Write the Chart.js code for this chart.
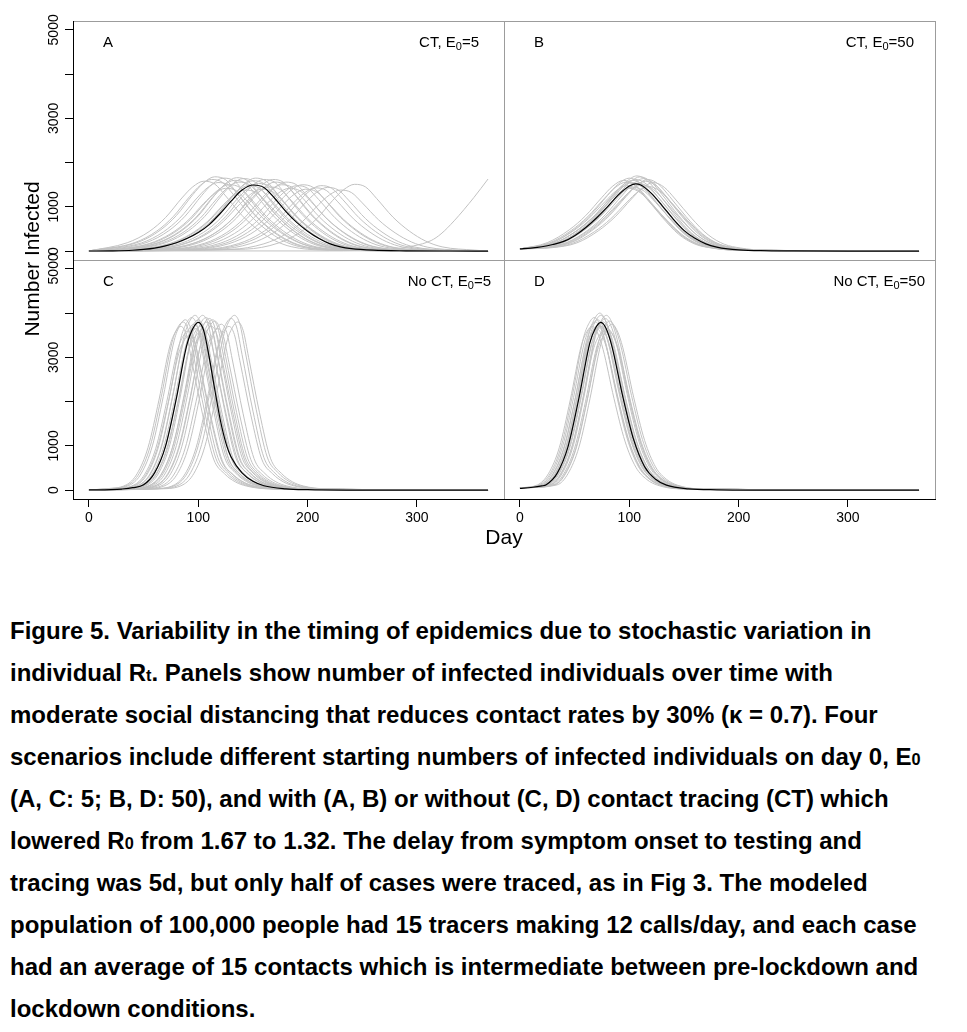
<!DOCTYPE html>
<html>
<head>
<meta charset="utf-8">
<title>Figure 5</title>
<script src="https://cdn.jsdelivr.net/npm/chart.js@4.4.1/dist/chart.umd.min.js"></script>
<style>
  html, body { margin: 0; padding: 0; background: #fff; }
  body { width: 967px; height: 1032px; position: relative; overflow: hidden; }
  #chart { position: absolute; left: 0; top: 0; }
  #caption {
    position: absolute; left: 10px; top: 610px;
    font-family: "Liberation Sans", Arial, sans-serif; font-weight: bold;
    font-size: 24px; line-height: 42px; color: #000; white-space: nowrap;
  }
  #caption .s { font-size: 68%; line-height: 0; }
  #caption .k { line-height: 0; }
</style>
</head>
<body>
<canvas id="chart" width="967" height="560"></canvas>
<div id="caption">Figure 5. Variability in the timing of epidemics due to stochastic variation in<br>individual R<span class="s">t</span>. Panels show number of infected individuals over time with<br>moderate social distancing that reduces contact rates by 30% (<span class="k">κ</span> = 0.7). Four<br>scenarios include different starting numbers of infected individuals on day 0, E<span class="s">0</span><br>(A, C: 5; B, D: 50), and with (A, B) or without (C, D) contact tracing (CT) which<br>lowered R<span class="s">0</span> from 1.67 to 1.32. The delay from symptom onset to testing and<br>tracing was 5d, but only half of cases were traced, as in Fig 3. The modeled<br>population of 100,000 people had 15 tracers making 12 calls/day, and each case<br>had an average of 15 contacts which is intermediate between pre-lockdown and<br>lockdown conditions.</div>
<script>
// axes (R style: 4% extra on each end of 0..365 days and 0..5000)
const xMin = -14.6, xMax = 379.6;
const yMin = -200, yMax = 5200;
const xTickValues = [0, 100, 200, 300];
const xTickLabels = ['0', '100', '200', '300'];
const yTickValues = [0, 1000, 2000, 3000, 4000, 5000];
const yTickLabels = ['0', '1000', '', '3000', '', '5000'];
const xTitle = 'Day';
const yTitle = 'Number Infected';

const panelLetters = ['A', 'B', 'C', 'D'];
const panelTitles = [
  ['CT, E', '0', '=5'],
  ['CT, E', '0', '=50'],
  ['No CT, E', '0', '=5'],
  ['No CT, E', '0', '=50']
];

// [day, number infected] -- black = central run, grey = stochastic runs

// A: CT, E0=5
const meanA = [[0,3],[20,6],[40,20],[50,40],[60,70],[70,120],[80,190],[90,290],[100,420],[110,600],[120,850],[130,1130],[140,1380],[150,1495],[160,1440],[170,1190],[180,900],[190,650],[200,450],[210,290],[220,170],[230,95],[240,55],[260,22],[290,8],[330,3],[365,2]];
const runsA = [
  [[0,5],[35,190],[55,442],[70,758],[85,1201],[95,1454],[105,1580],[115,1517],[125,1248],[140,806],[155,474],[170,237],[185,101],[215,24],[365,0]],
  [[0,5],[42,194],[62,454],[77,778],[92,1231],[102,1490],[112,1620],[122,1555],[132,1280],[147,826],[162,486],[177,243],[192,104],[222,24],[365,0]],
  [[0,5],[45,202],[65,470],[80,806],[95,1277],[105,1546],[115,1680],[125,1613],[135,1327],[150,857],[165,504],[180,252],[195,108],[225,25],[365,0]],
  [[0,5],[48,186],[68,434],[83,744],[98,1178],[108,1426],[118,1550],[128,1488],[138,1225],[153,791],[168,465],[183,233],[198,99],[228,23],[365,0]],
  [[0,5],[23,50],[53,198],[73,462],[88,792],[103,1254],[113,1518],[123,1650],[133,1584],[143,1304],[158,842],[173,495],[188,248],[203,106],[233,25],[365,0]],
  [[0,5],[25,43],[55,170],[75,398],[90,682],[105,1079],[115,1306],[125,1420],[135,1363],[145,1122],[160,724],[175,426],[190,213],[205,91],[235,21],[365,0]],
  [[0,5],[28,45],[58,180],[78,420],[93,720],[108,1140],[118,1380],[128,1500],[138,1440],[148,1185],[163,765],[178,450],[193,225],[208,96],[238,23],[365,0]],
  [[0,5],[33,48],[63,192],[83,448],[98,768],[113,1216],[123,1472],[133,1600],[143,1536],[153,1264],[168,816],[183,480],[198,240],[213,102],[243,24],[365,0]],
  [[0,5],[35,50],[65,199],[85,465],[100,797],[115,1262],[125,1527],[135,1660],[145,1594],[155,1311],[170,847],[185,498],[200,249],[215,106],[245,25],[365,0]],
  [[0,5],[37,47],[67,187],[87,437],[102,749],[117,1186],[127,1435],[137,1560],[147,1498],[157,1232],[172,796],[187,468],[202,234],[217,100],[247,23],[365,0]],
  [[0,5],[41,49],[71,197],[91,459],[106,787],[121,1246],[131,1509],[141,1640],[151,1574],[161,1296],[176,836],[191,492],[206,246],[221,105],[251,25],[365,0]],
  [[0,5],[43,41],[73,166],[93,386],[108,662],[123,1049],[133,1270],[143,1380],[153,1325],[163,1090],[178,704],[193,414],[208,207],[223,88],[253,21],[365,0]],
  [[0,5],[46,44],[76,178],[96,414],[111,710],[126,1125],[136,1362],[146,1480],[156,1421],[166,1169],[181,755],[196,444],[211,222],[226,95],[256,22],[365,0]],
  [[0,5],[50,48],[80,191],[100,445],[115,763],[130,1208],[140,1463],[150,1590],[160,1526],[170,1256],[185,811],[200,477],[215,239],[230,102],[260,24],[365,0]],
  [[0,5],[52,50],[82,198],[102,462],[117,792],[132,1254],[142,1518],[152,1650],[162,1584],[172,1304],[187,842],[202,495],[217,248],[232,106],[262,25],[365,0]],
  [[0,5],[55,46],[85,184],[105,428],[120,734],[135,1163],[145,1408],[155,1530],[165,1469],[175,1209],[190,780],[205,459],[220,230],[235,98],[265,23],[365,0]],
  [[0,5],[58,42],[88,168],[108,392],[123,672],[138,1064],[148,1288],[158,1400],[168,1344],[178,1106],[193,714],[208,420],[223,210],[238,90],[268,21],[365,0]],
  [[0,5],[60,49],[90,194],[110,454],[125,778],[140,1231],[150,1490],[160,1620],[170,1555],[180,1280],[195,826],[210,486],[225,243],[240,104],[270,24],[365,0]],
  [[0,5],[65,44],[95,174],[115,406],[130,696],[145,1102],[155,1334],[165,1450],[175,1392],[185,1146],[200,740],[215,435],[230,218],[245,93],[275,22],[365,0]],
  [[0,5],[68,49],[98,194],[118,454],[133,778],[148,1231],[158,1490],[168,1620],[178,1555],[188,1280],[203,826],[218,486],[233,243],[248,104],[278,24],[365,0]],
  [[0,5],[70,47],[100,187],[120,437],[135,749],[150,1186],[160,1435],[170,1560],[180,1498],[190,1232],[205,796],[220,468],[235,234],[250,100],[280,23],[365,0]],
  [[0,5],[76,45],[106,180],[126,420],[141,720],[156,1140],[166,1380],[176,1500],[186,1440],[196,1185],[211,765],[226,450],[241,225],[256,96],[286,23],[365,0]],
  [[0,5],[80,47],[110,187],[130,437],[145,749],[160,1186],[170,1435],[180,1560],[190,1498],[200,1232],[215,796],[230,468],[245,234],[260,100],[290,23],[365,0]],
  [[0,5],[83,43],[113,170],[133,398],[148,682],[163,1079],[173,1306],[183,1420],[193,1363],[203,1122],[218,724],[233,426],[248,213],[263,91],[293,21],[365,0]],
  [[0,5],[90,44],[120,178],[140,414],[155,710],[170,1125],[180,1362],[190,1480],[200,1421],[210,1169],[225,755],[240,444],[255,222],[270,95],[300,22],[365,0]],
  [[0,5],[95,45],[125,180],[145,420],[160,720],[175,1140],[185,1380],[195,1500],[205,1440],[215,1185],[230,765],[245,450],[260,225],[275,96],[305,23],[365,0]],
  [[0,5],[98,42],[128,168],[148,392],[163,672],[178,1064],[188,1288],[198,1400],[208,1344],[218,1106],[233,714],[248,420],[263,210],[278,90],[308,21],[365,0]],
  [[0,5],[107,43],[137,172],[157,400],[172,686],[187,1087],[197,1316],[207,1430],[217,1373],[227,1130],[242,729],[257,429],[272,215],[287,92],[317,21],[365,0]],
  [[0,5],[112,44],[142,178],[162,414],[177,710],[192,1125],[202,1362],[212,1480],[222,1421],[232,1169],[247,755],[262,444],[277,222],[292,95],[322,22],[365,0]],
  [[0,5],[118,43],[148,173],[168,403],[183,691],[198,1094],[208,1325],[218,1440],[228,1382],[238,1138],[253,734],[268,432],[283,216],[298,92],[328,22],[365,0]],
  [[0,5],[130,41],[160,166],[180,386],[195,662],[210,1049],[220,1270],[230,1380],[240,1325],[250,1090],[265,704],[280,414],[295,207],[310,88],[340,21],[365,0]],
  [[0,5],[143,45],[173,181],[193,423],[208,725],[223,1148],[233,1389],[243,1510],[253,1450],[263,1193],[278,770],[293,453],[308,227],[323,97],[353,23],[365,0]],
  [[0,5],[220,5],[270,30],[297,120],[313,240],[322,390],[334,685],[352,1210],[365,1630]]
];

// B: CT, E0=50
const meanB = [[0,50],[10,70],[20,100],[30,150],[40,220],[50,350],[60,530],[70,750],[80,1000],[90,1270],[100,1470],[106,1520],[110,1500],[120,1310],[130,1030],[140,730],[150,470],[160,290],[170,165],[180,90],[190,50],[200,30],[220,12],[250,5],[300,2],[365,1]];
const runsB = [
  [[0,50],[25,192],[45,480],[60,800],[75,1216],[85,1472],[95,1600],[105,1488],[115,1216],[130,768],[145,384],[160,160],[175,72],[195,24],[365,0]],
  [[0,50],[27,187],[47,468],[62,780],[77,1186],[87,1435],[97,1560],[107,1451],[117,1186],[132,749],[147,374],[162,156],[177,70],[197,23],[365,0]],
  [[0,50],[28,178],[48,444],[63,740],[78,1125],[88,1362],[98,1480],[108,1376],[118,1125],[133,710],[148,355],[163,148],[178,67],[198,22],[365,0]],
  [[0,50],[30,198],[50,495],[65,825],[80,1254],[90,1518],[100,1650],[110,1535],[120,1254],[135,792],[150,396],[165,165],[180,74],[200,25],[365,0]],
  [[0,50],[32,186],[52,465],[67,775],[82,1178],[92,1426],[102,1550],[112,1442],[122,1178],[137,744],[152,372],[167,155],[182,70],[202,23],[365,0]],
  [[0,50],[33,192],[53,480],[68,800],[83,1216],[93,1472],[103,1600],[113,1488],[123,1216],[138,768],[153,384],[168,160],[183,72],[203,24],[365,0]],
  [[0,50],[34,174],[54,435],[69,725],[84,1102],[94,1334],[104,1450],[114,1349],[124,1102],[139,696],[154,348],[169,145],[184,65],[204,22],[365,0]],
  [[0,50],[36,194],[56,486],[71,810],[86,1231],[96,1490],[106,1620],[116,1507],[126,1231],[141,778],[156,389],[171,162],[186,73],[206,24],[365,0]],
  [[0,50],[37,204],[57,510],[72,850],[87,1292],[97,1564],[107,1700],[117,1581],[127,1292],[142,816],[157,408],[172,170],[187,77],[207,26],[365,0]],
  [[0,50],[18,90],[38,185],[58,462],[73,770],[88,1170],[98,1417],[108,1540],[118,1432],[128,1170],[143,739],[158,370],[173,154],[188,69],[208,23],[365,0]],
  [[0,50],[20,90],[40,202],[60,504],[75,840],[90,1277],[100,1546],[110,1680],[120,1562],[130,1277],[145,806],[160,403],[175,168],[190,76],[210,25],[365,0]],
  [[0,50],[22,88],[42,180],[62,450],[77,750],[92,1140],[102,1380],[112,1500],[122,1395],[132,1140],[147,720],[162,360],[177,150],[192,68],[212,23],[365,0]],
  [[0,50],[25,85],[45,190],[65,474],[80,790],[95,1201],[105,1454],[115,1580],[125,1469],[135,1201],[150,758],[165,379],[180,158],[195,71],[215,24],[365,0]],
  [[0,50],[20,85],[47,194],[67,486],[82,810],[97,1231],[107,1490],[117,1620],[127,1507],[137,1231],[152,778],[167,389],[182,162],[197,73],[217,24],[365,0]],
  [[0,50],[28,82],[48,175],[68,438],[83,730],[98,1110],[108,1343],[118,1460],[128,1358],[138,1110],[153,701],[168,350],[183,146],[198,66],[218,22],[365,0]],
  [[0,50],[30,80],[52,186],[72,465],[87,775],[102,1178],[112,1426],[122,1550],[132,1442],[142,1178],[157,744],[172,372],[187,155],[202,70],[222,23],[365,0]],
  [[0,50],[30,170],[50,426],[65,710],[80,1079],[90,1306],[100,1420],[110,1321],[120,1079],[135,682],[150,341],[165,142],[180,64],[200,21],[365,0]],
  [[0,50],[23,88],[43,197],[63,492],[78,820],[93,1246],[103,1509],[113,1640],[123,1525],[133,1246],[148,787],[163,394],[178,164],[193,74],[213,25],[365,0]]
];

// C: No CT, E0=5
const meanC = [[0,5],[20,12],[30,25],[40,55],[50,121],[60,390],[70,990],[80,2080],[87,3000],[90,3320],[95,3650],[100,3790],[105,3600],[110,3000],[115,2280],[120,1600],[126,1000],[130,750],[140,390],[150,200],[160,100],[180,30],[200,10],[240,2],[365,0]];
const runsC = [
  [[0,5],[14,30],[34,118],[44,370],[54,962],[64,2035],[74,3256],[79,3571],[84,3700],[89,3515],[94,2923],[104,1702],[114,703],[124,370],[134,185],[144,93],[164,30],[365,0]],
  [[0,5],[16,30],[36,122],[46,380],[56,988],[66,2090],[76,3344],[81,3667],[86,3800],[91,3610],[96,3002],[106,1748],[116,722],[126,380],[136,190],[146,95],[166,30],[365,0]],
  [[0,5],[18,31],[38,123],[48,385],[58,1001],[68,2118],[78,3388],[83,3715],[88,3850],[93,3658],[98,3042],[108,1771],[118,732],[128,385],[138,193],[148,96],[168,31],[365,0]],
  [[0,5],[21,29],[41,115],[51,360],[61,936],[71,1980],[81,3168],[86,3474],[91,3600],[96,3420],[101,2844],[111,1656],[121,684],[131,360],[141,180],[151,90],[171,29],[365,0]],
  [[0,5],[22,28],[42,112],[52,350],[62,910],[72,1925],[82,3080],[87,3378],[92,3500],[97,3325],[102,2765],[112,1610],[122,665],[132,350],[142,175],[152,88],[172,28],[365,0]],
  [[0,5],[24,31],[44,125],[54,390],[64,1014],[74,2145],[84,3432],[89,3764],[94,3900],[99,3705],[104,3081],[114,1794],[124,741],[134,390],[144,195],[154,98],[174,31],[365,0]],
  [[0,5],[26,30],[46,120],[56,375],[66,975],[76,2063],[86,3300],[91,3619],[96,3750],[101,3563],[106,2963],[116,1725],[126,713],[136,375],[146,188],[156,94],[176,30],[365,0]],
  [[0,5],[27,32],[47,126],[57,395],[67,1027],[77,2173],[87,3476],[92,3812],[97,3950],[102,3753],[107,3121],[117,1817],[127,751],[137,395],[147,198],[157,99],[177,32],[365,0]],
  [[0,5],[28,29],[48,117],[58,365],[68,949],[78,2008],[88,3212],[93,3522],[98,3650],[103,3468],[108,2884],[118,1679],[128,694],[138,365],[148,183],[158,91],[178,29],[365,0]],
  [[0,5],[30,31],[50,123],[60,385],[70,1001],[80,2118],[90,3388],[95,3715],[100,3850],[105,3658],[110,3042],[120,1771],[130,732],[140,385],[150,193],[160,96],[180,31],[365,0]],
  [[0,5],[31,28],[51,114],[61,355],[71,923],[81,1953],[91,3124],[96,3426],[101,3550],[106,3373],[111,2805],[121,1633],[131,675],[141,355],[151,178],[161,89],[181,28],[365,0]],
  [[0,5],[32,30],[52,118],[62,370],[72,962],[82,2035],[92,3256],[97,3571],[102,3700],[107,3515],[112,2923],[122,1702],[132,703],[142,370],[152,185],[162,93],[182,30],[365,0]],
  [[0,5],[34,32],[54,126],[64,395],[74,1027],[84,2173],[94,3476],[99,3812],[104,3950],[109,3753],[114,3121],[124,1817],[134,751],[144,395],[154,198],[164,99],[184,32],[365,0]],
  [[0,5],[36,29],[56,115],[66,360],[76,936],[86,1980],[96,3168],[101,3474],[106,3600],[111,3420],[116,2844],[126,1656],[136,684],[146,360],[156,180],[166,90],[186,29],[365,0]],
  [[0,5],[37,31],[57,125],[67,390],[77,1014],[87,2145],[97,3432],[102,3764],[107,3900],[112,3705],[117,3081],[127,1794],[137,741],[147,390],[157,195],[167,98],[187,31],[365,0]],
  [[0,5],[38,30],[58,122],[68,380],[78,988],[88,2090],[98,3344],[103,3667],[108,3800],[113,3610],[118,3002],[128,1748],[138,722],[148,380],[158,190],[168,95],[188,30],[365,0]],
  [[0,5],[40,31],[60,124],[70,388],[80,1009],[90,2134],[100,3414],[105,3744],[110,3880],[115,3686],[120,3065],[130,1785],[140,737],[150,388],[160,194],[170,97],[190,31],[365,0]],
  [[0,5],[42,30],[62,118],[72,370],[82,962],[92,2035],[102,3256],[107,3571],[112,3700],[117,3515],[122,2923],[132,1702],[142,703],[152,370],[162,185],[172,93],[192,30],[365,0]],
  [[0,5],[43,31],[63,123],[73,385],[83,1001],[93,2118],[103,3388],[108,3715],[113,3850],[118,3658],[123,3042],[133,1771],[143,732],[153,385],[163,193],[173,96],[193,31],[365,0]],
  [[0,5],[45,31],[65,122],[75,382],[85,993],[95,2101],[105,3362],[110,3686],[115,3820],[120,3629],[125,3018],[135,1757],[145,726],[155,382],[165,191],[175,96],[195,31],[365,0]],
  [[0,5],[48,29],[68,117],[78,365],[88,949],[98,2008],[108,3212],[113,3522],[118,3650],[123,3468],[128,2884],[138,1679],[148,694],[158,365],[168,183],[178,91],[198,29],[365,0]],
  [[0,5],[51,30],[71,120],[81,375],[91,975],[101,2063],[111,3300],[116,3619],[121,3750],[126,3563],[131,2963],[141,1725],[151,713],[161,375],[171,188],[181,94],[201,30],[365,0]],
  [[0,5],[58,30],[78,118],[88,370],[98,962],[108,2035],[118,3256],[123,3571],[128,3700],[133,3515],[138,2923],[148,1702],[158,703],[168,370],[178,185],[188,93],[208,30],[365,0]],
  [[0,5],[60,31],[80,124],[90,388],[100,1009],[110,2134],[120,3414],[125,3744],[130,3880],[135,3686],[140,3065],[150,1785],[160,737],[170,388],[180,194],[190,97],[210,31],[365,0]],
  [[0,5],[63,32],[83,126],[93,395],[103,1027],[113,2173],[123,3476],[128,3812],[133,3950],[138,3753],[143,3121],[153,1817],[163,751],[173,395],[183,198],[193,99],[213,32],[365,0]],
  [[0,5],[66,30],[86,122],[96,380],[106,988],[116,2090],[126,3344],[131,3667],[136,3800],[141,3610],[146,3002],[156,1748],[166,722],[176,380],[186,190],[196,95],[216,30],[365,0]]
];

// D: No CT, E0=50
const meanD = [[0,40],[10,60],[20,95],[24,121],[34,379],[44,985],[54,2085],[64,3335],[69,3657],[74,3790],[79,3640],[84,3260],[94,2120],[104,1140],[114,530],[124,246],[134,114],[154,30],[180,8],[220,2],[365,0]];
const runsD = [
  [[0,50],[16,118],[26,370],[36,962],[46,2035],[56,3256],[61,3571],[66,3700],[71,3552],[76,3182],[86,2072],[96,1110],[106,518],[116,241],[126,111],[146,30],[365,0]],
  [[0,50],[18,125],[28,390],[38,1014],[48,2145],[58,3432],[63,3764],[68,3900],[73,3744],[78,3354],[88,2184],[98,1170],[108,546],[118,254],[128,117],[148,31],[365,0]],
  [[0,50],[19,122],[29,380],[39,988],[49,2090],[59,3344],[64,3667],[69,3800],[74,3648],[79,3268],[89,2128],[99,1140],[109,532],[119,247],[129,114],[149,30],[365,0]],
  [[0,50],[20,117],[30,365],[40,949],[50,2008],[60,3212],[65,3522],[70,3650],[75,3504],[80,3139],[90,2044],[100,1095],[110,511],[120,237],[130,110],[150,29],[365,0]],
  [[0,50],[21,123],[31,385],[41,1001],[51,2118],[61,3388],[66,3715],[71,3850],[76,3696],[81,3311],[91,2156],[101,1155],[111,539],[121,250],[131,116],[151,31],[365,0]],
  [[0,50],[22,120],[32,375],[42,975],[52,2063],[62,3300],[67,3619],[72,3750],[77,3600],[82,3225],[92,2100],[102,1125],[112,525],[122,244],[132,113],[152,30],[365,0]],
  [[0,50],[23,128],[33,400],[43,1040],[53,2200],[63,3520],[68,3860],[73,4000],[78,3840],[83,3440],[93,2240],[103,1200],[113,560],[123,260],[133,120],[153,32],[365,0]],
  [[0,50],[23,118],[33,370],[43,962],[53,2035],[63,3256],[68,3571],[73,3700],[78,3552],[83,3182],[93,2072],[103,1110],[113,518],[123,241],[133,111],[153,30],[365,0]],
  [[0,50],[24,126],[34,395],[44,1027],[54,2173],[64,3476],[69,3812],[74,3950],[79,3792],[84,3397],[94,2212],[104,1185],[114,553],[124,257],[134,119],[154,32],[365,0]],
  [[0,50],[25,118],[35,370],[45,962],[55,2035],[65,3256],[70,3571],[75,3700],[80,3552],[85,3182],[95,2072],[105,1110],[115,518],[125,241],[135,111],[155,30],[365,0]],
  [[0,50],[26,122],[36,380],[46,988],[56,2090],[66,3344],[71,3667],[76,3800],[81,3648],[86,3268],[96,2128],[106,1140],[116,532],[126,247],[136,114],[156,30],[365,0]],
  [[0,50],[27,115],[37,360],[47,936],[57,1980],[67,3168],[72,3474],[77,3600],[82,3456],[87,3096],[97,2016],[107,1080],[117,504],[127,234],[137,108],[157,29],[365,0]],
  [[0,50],[28,124],[38,388],[48,1009],[58,2134],[68,3414],[73,3744],[78,3880],[83,3725],[88,3337],[98,2173],[108,1164],[118,543],[128,252],[138,116],[158,31],[365,0]],
  [[0,50],[29,126],[39,395],[49,1027],[59,2173],[69,3476],[74,3812],[79,3950],[84,3792],[89,3397],[99,2212],[109,1185],[119,553],[129,257],[139,119],[159,32],[365,0]],
  [[0,50],[30,117],[40,365],[50,949],[60,2008],[70,3212],[75,3522],[80,3650],[85,3504],[90,3139],[100,2044],[110,1095],[120,511],[130,237],[140,110],[160,29],[365,0]],
  [[0,50],[31,115],[41,360],[51,936],[61,1980],[71,3168],[76,3474],[81,3600],[86,3456],[91,3096],[101,2016],[111,1080],[121,504],[131,234],[141,108],[161,29],[365,0]],
  [[0,50],[32,122],[42,382],[52,993],[62,2101],[72,3362],[77,3686],[82,3820],[87,3667],[92,3285],[102,2139],[112,1146],[122,535],[132,248],[142,115],[162,31],[365,0]],
  [[0,50],[34,120],[44,375],[54,975],[64,2063],[74,3300],[79,3619],[84,3750],[89,3600],[94,3225],[104,2100],[114,1125],[124,525],[134,244],[144,113],[164,30],[365,0]]
];

const family = '"Liberation Sans", Arial, sans-serif';

// which axes each panel uses; titleRight = gap from panel edge to end of label
const panels = [
  { x: 'xL', y: 'yT', mean: meanA, runs: runsA, titleRight: 25 },
  { x: 'xR', y: 'yT', mean: meanB, runs: runsB, titleRight: 21 },
  { x: 'xL', y: 'yB', mean: meanC, runs: runsC, titleRight: 13 },
  { x: 'xR', y: 'yB', mean: meanD, runs: runsD, titleRight: 10 }
];

const datasets = [];
panels.forEach(p => {
  p.runs.forEach(r => {
    datasets.push({
      data: r, xAxisID: p.x, yAxisID: p.y,
      borderColor: '#c2c2c2', borderWidth: 1,
      pointRadius: 0, cubicInterpolationMode: 'monotone', order: 2
    });
  });
  datasets.push({
    data: p.mean, xAxisID: p.x, yAxisID: p.y,
    borderColor: '#000', borderWidth: 1.2,
    pointRadius: 0, cubicInterpolationMode: 'monotone', order: 1
  });
});

function xScale(weight) {
  return {
    type: 'linear', position: 'bottom', stack: 'x', weight: weight,
    min: xMin, max: xMax,
    afterFit: s => { s.height = 40; },
    afterBuildTicks: s => { s.ticks = xTickValues.map(v => ({ value: v })); },
    border: { display: true, color: '#000', width: 1 },
    grid: { display: true, drawOnChartArea: false, drawTicks: true, tickLength: 8, tickColor: '#000', tickWidth: 1 },
    ticks: {
      autoSkip: false, maxRotation: 0, padding: 3, color: '#000',
      font: { family: family, size: 14 },
      callback: v => xTickLabels[xTickValues.indexOf(v)]
    }
  };
}

function yScale(weight) {
  return {
    type: 'linear', position: 'left', stack: 'y', weight: weight,
    min: yMin, max: yMax,
    afterFit: s => { s.width = 73; },
    afterBuildTicks: s => { s.ticks = yTickValues.map(v => ({ value: v })); },
    border: { display: true, color: '#000', width: 1 },
    grid: { display: true, drawOnChartArea: false, drawTicks: true, tickLength: 8, tickColor: '#000', tickWidth: 1 },
    ticks: {
      autoSkip: false, minRotation: 90, maxRotation: 90, crossAlign: 'center', padding: -5,
      color: '#000', font: { family: family, size: 14 },
      callback: v => yTickLabels[yTickValues.indexOf(v)]
    }
  };
}

// grey frame round each panel
const panelBoxes = {
  id: 'panelBoxes',
  beforeDraw(chart) {
    const ctx = chart.ctx;
    ctx.save();
    ctx.strokeStyle = '#9c9c9c';
    ctx.lineWidth = 1;
    panels.forEach(p => {
      const xs = chart.scales[p.x], ys = chart.scales[p.y];
      const l = Math.round(xs.left) + 0.5, r = Math.round(xs.right) + 0.5;
      const t = Math.round(ys.top) + 0.5, b = Math.round(ys.bottom) + 0.5;
      ctx.strokeRect(l, t, r - l, b - t);
    });
    ctx.restore();
  }
};

function drawTitle(ctx, parts, xRight, yBase) {
  const big = '15px ' + family, small = '11px ' + family;
  let w = 0;
  parts.forEach((s, i) => { ctx.font = i === 1 ? small : big; w += ctx.measureText(s).width; });
  let x = xRight - w;
  parts.forEach((s, i) => {
    ctx.font = i === 1 ? small : big;
    ctx.fillText(s, x, yBase + (i === 1 ? 3 : 0));
    x += ctx.measureText(s).width;
  });
}

const panelText = {
  id: 'panelText',
  afterDraw(chart) {
    const ctx = chart.ctx;
    const area = chart.chartArea;
    ctx.save();
    ctx.fillStyle = '#000';
    ctx.textBaseline = 'alphabetic';
    ctx.textAlign = 'left';
    panels.forEach((p, i) => {
      const xs = chart.scales[p.x], ys = chart.scales[p.y];
      ctx.font = '15px ' + family;
      ctx.fillText(panelLetters[i], xs.left + 30, ys.top + 26);
      drawTitle(ctx, panelTitles[i], xs.right - p.titleRight, ys.top + 26);
    });
    ctx.font = '21px ' + family;
    ctx.textAlign = 'center';
    ctx.fillText(xTitle, (area.left + area.right) / 2, 544);
    ctx.translate(33, (area.top + area.bottom) / 2 - 1);
    ctx.rotate(-Math.PI / 2);
    ctx.textBaseline = 'middle';
    ctx.fillText(yTitle, 0, 0);
    ctx.restore();
  }
};

new Chart(document.getElementById('chart').getContext('2d'), {
  type: 'line',
  data: { datasets: datasets },
  options: {
    responsive: false,
    devicePixelRatio: 1,
    animation: false,
    events: [],
    layout: { padding: { top: 21, right: 32, bottom: 21, left: 0 } },
    plugins: { legend: { display: false }, tooltip: { enabled: false } },
    scales: {
      xL: xScale(0),
      xR: xScale(1),
      yT: yScale(1),
      yB: yScale(0)
    }
  },
  plugins: [panelBoxes, panelText]
});
</script>
</body>
</html>
